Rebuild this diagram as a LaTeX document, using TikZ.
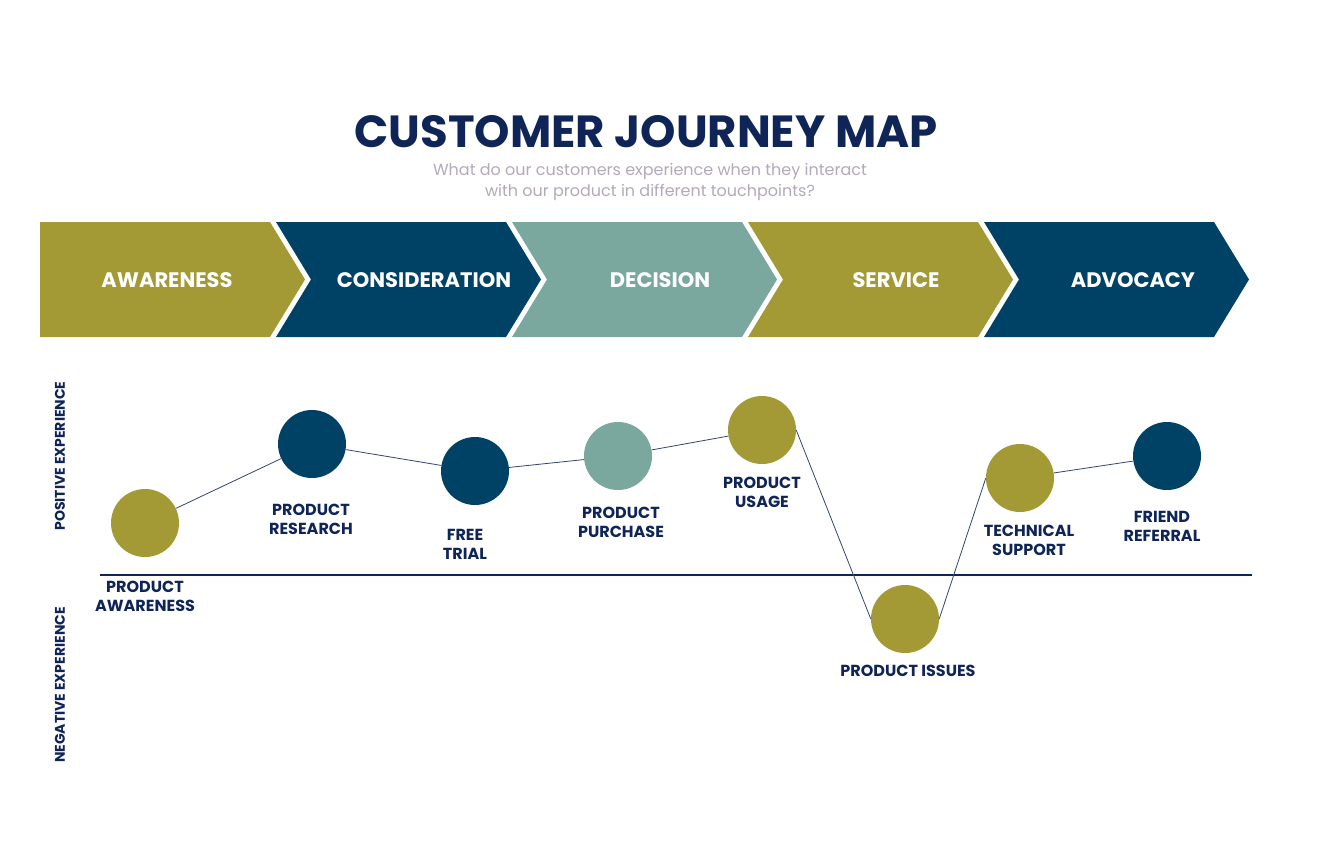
\documentclass[tikz,border=0pt]{standalone}
\usepackage{fontspec}
\setmainfont{Poppins}
\newfontfamily\pb{Poppins}[UprightFont=* Bold]
\definecolor{olive}{HTML}{A39A35}
\definecolor{navy}{HTML}{004266}
\definecolor{teal}{HTML}{7AA89E}
\definecolor{ink}{HTML}{0F2557}
\definecolor{sub}{HTML}{B3A9BB}
\begin{document}
\begin{tikzpicture}[x=1pt,y=-1pt,
  dot/.style={circle,minimum size=68pt,inner sep=0pt},
  lab/.style={font=\pb\fontsize{16}{19}\selectfont,text=ink,align=center},
  stage/.style={font=\pb\fontsize{21}{24}\selectfont,text=white},
  conn/.style={draw=ink!85,line width=0.8pt}]
\useasboundingbox (0,0) rectangle (1330,852);
\fill[white] (0,0) rectangle (1330,852);
\node[font=\pb\fontsize{45}{50}\selectfont,text=ink] (t) at (646,132) {CUSTOMER JOURNEY MAP};
\node[font=\fontsize{16}{21}\selectfont,text=sub,align=center] (s) at (650,182) {What do our customers experience when they interact\\with our product in different touchpoints?};
% chevrons
\fill[olive] (40,222) -- (270,222) -- (305,279.5) -- (270,337) -- (40,337) -- cycle;
\foreach \i/\c in {1/navy,2/teal,3/olive,4/navy}{
  \pgfmathsetmacro\xa{40+236*\i}
  \fill[\c] (\xa,222) -- (\xa+230,222) -- (\xa+265,279.5) -- (\xa+230,337) -- (\xa,337) -- (\xa+35,279.5) -- cycle;}
\node[stage] (s1) at (167,280) {AWARENESS};
\node[stage] (s2) at (424,280) {CONSIDERATION};
\node[stage] (s3) at (660,280) {DECISION};
\node[stage] (s4) at (896,280) {SERVICE};
\node[stage] (s5) at (1133,280) {ADVOCACY};
% axis
\coordinate (ax1) at (100,575); \coordinate (ax2) at (1252,575);
\draw[ink,line width=1.4pt] (ax1) -- (ax2);
\node[font=\pb\fontsize{14}{16}\selectfont,text=ink,rotate=90] (pe) at (60,456) {POSITIVE EXPERIENCE};
\node[font=\pb\fontsize{14}{16}\selectfont,text=ink,rotate=90] (ne) at (60,685) {NEGATIVE EXPERIENCE};
% dots
\node[dot,fill=olive] (c1) at (145,523) {};
\node[dot,fill=navy] (c2) at (312,444) {};
\node[dot,fill=navy] (c3) at (475,471) {};
\node[dot,fill=teal] (c4) at (618,456) {};
\node[dot,fill=olive] (c5) at (762,430) {};
\node[dot,fill=olive] (c6) at (905,619) {};
\node[dot,fill=olive] (c7) at (1020,478) {};
\node[dot,fill=navy] (c8) at (1167,456) {};
\draw[conn] (c1)--(c2) (c2)--(c3) (c3)--(c4) (c4)--(c5) (c5.east)--(c6.west) (c6.east)--(c7.west) (c7)--(c8);
% labels
\node[lab] (l1) at (145,596) {PRODUCT\\AWARENESS};
\node[lab] (l2) at (311,519) {PRODUCT\\RESEARCH};
\node[lab] (l3) at (465,544) {FREE\\TRIAL};
\node[lab] (l4) at (621,522) {PRODUCT\\PURCHASE};
\node[lab] (l5) at (762,492) {PRODUCT\\USAGE};
\node[lab] (l6) at (908,671) {PRODUCT ISSUES};
\node[lab] (l7) at (1029,540) {TECHNICAL\\SUPPORT};
\node[lab] (l8) at (1162,526) {FRIEND\\REFERRAL};
\end{tikzpicture}
\end{document}
